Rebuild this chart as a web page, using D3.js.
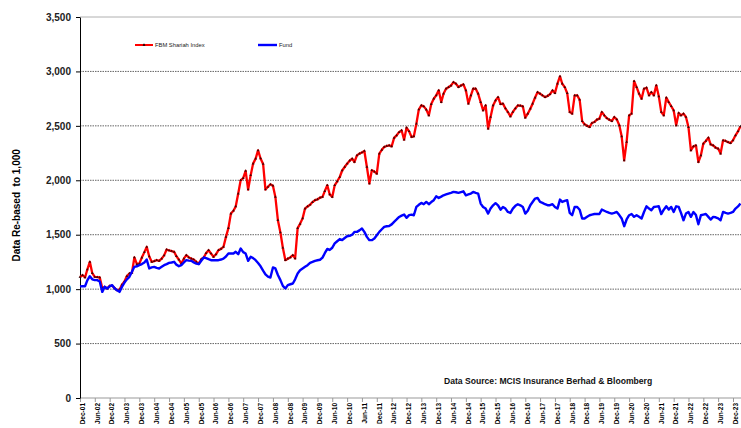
<!DOCTYPE html>
<html>
<head>
<meta charset="utf-8">
<script src="https://cdn.jsdelivr.net/npm/d3@7"></script>
<style>
  html, body { margin: 0; padding: 0; background: #fff; }
  svg { display: block; font-family: Arial, "Liberation Sans", sans-serif; }
</style>
</head>
<body>
<div id="chart"></div>
<script>
// monthly values, first point Dec-2001
const startMonth = new Date(2001, 11, 1);

const fbmShariah = [
  1110,
  1128, 1107, 1180, 1251, 1147, 1113, 1110, 1107, 1010, 1020, 1006, 1030, // 2002
  1030, 1010, 990, 995, 1040, 1070, 1120, 1144, 1150, 1291, 1229, 1235,    // 2003
  1290, 1340, 1388, 1300, 1251, 1258, 1266, 1260, 1280, 1310, 1364, 1355,  // 2004
  1350, 1343, 1303, 1270, 1235, 1280, 1312, 1291, 1280, 1272, 1250, 1235,  // 2005
  1275, 1291, 1330, 1358, 1327, 1297, 1320, 1358, 1370, 1388, 1480, 1560,  // 2006
  1694, 1720, 1760, 1878, 2000, 2020, 2086, 1915, 2046, 2153, 2199, 2275,  // 2007
  2200, 2150, 1915, 1940, 1963, 1950, 1847, 1633, 1520, 1380, 1266, 1280,  // 2008
  1291, 1312, 1282, 1560, 1600, 1650, 1740, 1760, 1775, 1800, 1817, 1825,  // 2009
  1840, 1847, 1900, 1954, 1870, 1847, 1954, 1990, 2030, 2090, 2122, 2153,  // 2010
  2180, 2199, 2168, 2229, 2245, 2255, 2269, 2122, 1970, 2092, 2080, 2061,  // 2011
  2245, 2280, 2306, 2315, 2321, 2312, 2390, 2413, 2443, 2459, 2373, 2483,  // 2012
  2450, 2398, 2404, 2520, 2650, 2688, 2679, 2649, 2596, 2700, 2749, 2780,  // 2013
  2826, 2718, 2795, 2841, 2855, 2870, 2902, 2887, 2856, 2870, 2881, 2826,  // 2014
  2704, 2780, 2841, 2841, 2795, 2718, 2642, 2688, 2474, 2581, 2688, 2734,  // 2015
  2764, 2700, 2704, 2660, 2627, 2587, 2627, 2660, 2688, 2685, 2679, 2575,  // 2016
  2612, 2658, 2704, 2760, 2810, 2795, 2780, 2764, 2775, 2790, 2826, 2801,  // 2017
  2887, 2954, 2887, 2856, 2800, 2627, 2612, 2780, 2780, 2740, 2544, 2514,  // 2018
  2500, 2489, 2526, 2535, 2557, 2566, 2627, 2596, 2570, 2557, 2544, 2581,  // 2019
  2560, 2505, 2404, 2183, 2352, 2596, 2612, 2911, 2856, 2795, 2749, 2841,  // 2020
  2850, 2780, 2810, 2780, 2872, 2771, 2627, 2596, 2759, 2718, 2680, 2642,  // 2021
  2505, 2618, 2596, 2612, 2581, 2489, 2275, 2312, 2321, 2168, 2229, 2337,  // 2022
  2361, 2392, 2330, 2321, 2300, 2291, 2245, 2367, 2361, 2350, 2342, 2367,  // 2023
  2413, 2450, 2495                                                         // 2024
];

const fund = [
  1025,
  1027, 1027, 1080, 1119, 1090, 1083, 1083, 1070, 975, 1021, 1006, 1025,   // 2002
  1037, 1006, 990, 975, 1021, 1060, 1090, 1113, 1160, 1205, 1210, 1220,    // 2003
  1230, 1245, 1272, 1190, 1200, 1205, 1195, 1190, 1205, 1220, 1230, 1241,  // 2004
  1245, 1251, 1225, 1211, 1220, 1245, 1266, 1262, 1260, 1245, 1235, 1229,  // 2005
  1260, 1291, 1285, 1275, 1266, 1266, 1266, 1266, 1272, 1280, 1300, 1327,  // 2006
  1327, 1327, 1343, 1321, 1373, 1340, 1327, 1260, 1297, 1285, 1266, 1240,  // 2007
  1210, 1170, 1135, 1115, 1107, 1199, 1190, 1130, 1083, 1030, 1006, 1037,  // 2008
  1045, 1052, 1090, 1144, 1174, 1190, 1205, 1220, 1241, 1250, 1260, 1265,  // 2009
  1270, 1290, 1330, 1370, 1360, 1380, 1420, 1440, 1460, 1450, 1470, 1486,  // 2010
  1490, 1500, 1526, 1526, 1540, 1557, 1526, 1480, 1450, 1450, 1465, 1495,  // 2011
  1526, 1550, 1572, 1578, 1580, 1595, 1618, 1640, 1663, 1675, 1685, 1655,  // 2012
  1680, 1685, 1679, 1755, 1775, 1792, 1780, 1801, 1780, 1800, 1817, 1853,  // 2013
  1838, 1850, 1862, 1870, 1878, 1885, 1893, 1890, 1885, 1892, 1899, 1862,  // 2014
  1870, 1878, 1893, 1885, 1878, 1786, 1755, 1740, 1694, 1740, 1770, 1790,  // 2015
  1770, 1730, 1755, 1740, 1709, 1700, 1740, 1765, 1780, 1770, 1755, 1694,  // 2016
  1720, 1771, 1800, 1832, 1838, 1801, 1792, 1780, 1771, 1771, 1780, 1755,  // 2017
  1740, 1823, 1801, 1810, 1817, 1700, 1679, 1755, 1755, 1730, 1649, 1649,  // 2018
  1665, 1679, 1685, 1690, 1690, 1690, 1731, 1720, 1709, 1700, 1694, 1700,  // 2019
  1709, 1680, 1649, 1578, 1640, 1679, 1690, 1664, 1679, 1665, 1649, 1709,  // 2020
  1761, 1740, 1725, 1755, 1758, 1761, 1690, 1730, 1761, 1731, 1755, 1709,  // 2021
  1761, 1755, 1700, 1633, 1694, 1709, 1664, 1709, 1680, 1596, 1679, 1685,  // 2022
  1690, 1664, 1639, 1664, 1660, 1650, 1633, 1709, 1700, 1694, 1700, 1709,  // 2023
  1740, 1760, 1786                                                         // 2024
];

const yTicks = [0, 500, 1000, 1500, 2000, 2500, 3000, 3500];
// half-yearly ticks Dec-01 ... Dec-23
const xTickDates = d3.range(0, 45).map((i) => d3.timeMonth.offset(startMonth, i * 6));

const seriesNames = ["FBM Shariah Index", "Fund"];
const seriesColors = ["#ff0000", "#0000ff"];

const config = {
  width: 741,
  height: 428,
  margin: { top: 17, left: 80, bottom: 30 },
  plotRight: 733, // x of Dec-23
};

const { width, height, margin } = config;

const svg = d3
  .select("#chart")
  .append("svg")
  .attr("width", width)
  .attr("height", height);

const xScale = d3
  .scaleTime()
  .domain([startMonth, d3.timeMonth.offset(startMonth, 264)])
  .range([margin.left, config.plotRight]);

const yScale = d3
  .scaleLinear()
  .domain([0, 3500])
  .range([height - margin.bottom, margin.top]);

const toPoints = (arr) =>
  arr.map((v, i) => ({ date: d3.timeMonth.offset(startMonth, i), value: v }));

const fbmData = toPoints(fbmShariah);
const fundData = toPoints(fund);

// Horizontal grid lines
svg
  .selectAll(".grid-line")
  .data(yTicks.filter((d) => d > 0))
  .join("line")
  .attr("class", "grid-line")
  .attr("x1", margin.left)
  .attr("x2", width + 20)
  .attr("y1", (d) => yScale(d))
  .attr("y2", (d) => yScale(d))
  .attr("stroke", (d) => (d === 3500 ? "#b0b0b0" : "#666"))
  .attr("stroke-dasharray", (d) => (d === 3500 ? null : "1.5,1"))
  .attr("stroke-width", 1);

// X axis
const xAxis = svg
  .append("g")
  .attr("class", "x-axis")
  .attr("transform", `translate(0, ${yScale(0)})`)
  .call(
    d3.axisBottom(xScale)
      .tickValues(xTickDates)
      .tickSize(4)
      .tickSizeOuter(0)
      .tickFormat(d3.timeFormat("%b-%y"))
  );

xAxis.select(".domain").attr("stroke", "#999").attr("d", `M${margin.left},0H${width + 20}`);
xAxis.selectAll(".tick line").attr("stroke", "#999");
xAxis
  .selectAll(".tick text")
  .attr("transform", "rotate(-90)")
  .attr("text-anchor", "end")
  .attr("x", -5)
  .attr("y", 2)
  .attr("dy", "0.35em")
  .style("font-size", "6.5px")
  .style("font-weight", "bold")
  .style("fill", "#000");

// Y axis
const yAxis = svg
  .append("g")
  .attr("class", "y-axis")
  .attr("transform", `translate(${margin.left}, 0)`)
  .call(
    d3.axisLeft(yScale)
      .tickValues(yTicks)
      .tickSize(4)
      .tickSizeOuter(0)
      .tickFormat(d3.format(","))
  );

yAxis.select(".domain").attr("stroke", "#000");
yAxis.selectAll(".tick line").attr("stroke", "#000");
yAxis
  .selectAll(".tick text")
  .attr("x", -9)
  .style("font-size", "10px")
  .style("font-weight", "bold")
  .style("fill", "#222");

// Y label
svg
  .append("text")
  .attr("transform", `translate(16, ${yScale(1770)}) rotate(-90)`)
  .attr("text-anchor", "middle")
  .attr("dy", "0.35em")
  .style("font-size", "10px")
  .style("font-weight", "bold")
  .style("white-space", "pre")
  .text("Data Re-based  to 1,000");

const line = d3
  .line()
  .x((d) => xScale(d.date))
  .y((d) => yScale(d.value));

// FBM Shariah line + markers
svg
  .append("path")
  .datum(fbmData)
  .attr("fill", "none")
  .attr("stroke", seriesColors[0])
  .attr("stroke-width", 2.3)
  .attr("stroke-linejoin", "round")
  .attr("d", line);

const triangle = d3.symbol().type(d3.symbolTriangle).size(3.5);

svg
  .selectAll(".fbm-marker")
  .data(fbmData)
  .join("path")
  .attr("class", "fbm-marker")
  .attr("transform", (d) => `translate(${xScale(d.date)}, ${yScale(d.value)})`)
  .attr("d", triangle)
  .attr("fill", "#2a0000")
  .attr("opacity", 0.85);

// Fund line
svg
  .append("path")
  .datum(fundData)
  .attr("fill", "none")
  .attr("stroke", seriesColors[1])
  .attr("stroke-width", 2.4)
  .attr("stroke-linejoin", "round")
  .attr("d", line);

// Legend
const legendItems = [
  { name: seriesNames[0], color: seriesColors[0], x1: 135, x2: 153, marker: true },
  { name: seriesNames[1], color: seriesColors[1], x1: 258, x2: 277, marker: false },
];

const legend = svg.append("g").attr("class", "legend");

legendItems.forEach((item) => {
  legend
    .append("line")
    .attr("x1", item.x1)
    .attr("x2", item.x2)
    .attr("y1", 45)
    .attr("y2", 45)
    .attr("stroke", item.color)
    .attr("stroke-width", item.marker ? 2 : 2.4);
  if (item.marker) {
    legend
      .append("path")
      .attr("transform", `translate(${(item.x1 + item.x2) / 2}, 45)`)
      .attr("d", triangle)
      .attr("fill", "#000");
  }
  legend
    .append("text")
    .attr("x", item.x2 + 2)
    .attr("y", 45)
    .attr("dy", "0.35em")
    .style("font-size", "5.8px")
    .style("fill", "#222")
    .text(item.name);
});

// Source note
svg
  .append("text")
  .attr("x", 444)
  .attr("y", 384)
  .style("font-size", "8.6px")
  .style("font-weight", "bold")
  .style("fill", "#111")
  .text("Data Source: MCIS Insurance Berhad & Bloomberg");
</script>
</body>
</html>
